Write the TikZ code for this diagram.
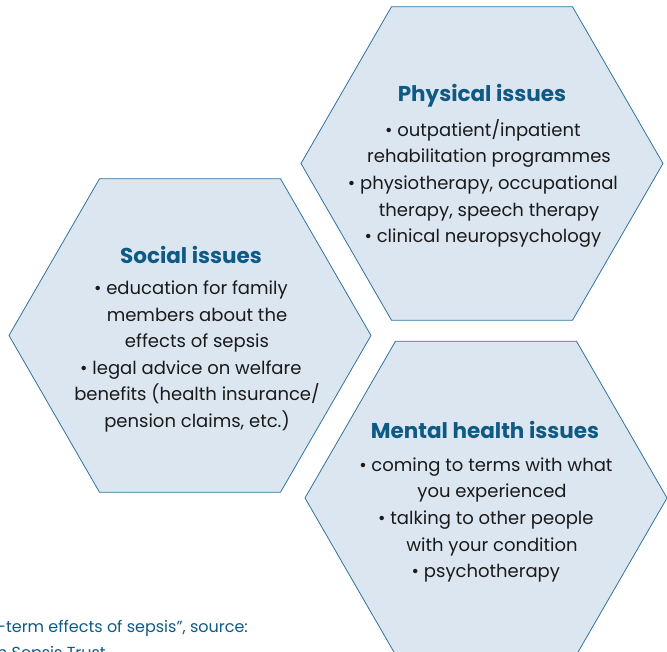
\documentclass[tikz,border=0pt]{standalone}
\usepackage{fontspec}
\setmainfont{Poppins}
\usepackage{tikz}
\usetikzlibrary{shapes.geometric}

\definecolor{hexfill}{HTML}{DCE6F1}
\definecolor{hexline}{HTML}{2E73A3}
\definecolor{headblue}{HTML}{0F5A85}
\definecolor{bodytext}{HTML}{1A1A1A}

\newcommand{\itm}{\llap{\textbullet\ }}

\begin{document}
\begin{tikzpicture}[x=1pt,y=1pt,
	hexbox/.style={regular polygon, regular polygon sides=6, minimum size=362pt,
		inner sep=0pt, outer sep=0pt, draw=hexline, line width=0.8pt, fill=hexfill},
	headtext/.style={font=\fontsize{21.5}{26}\selectfont\bfseries, text=headblue},
	itemtext/.style={font=\fontsize{18}{26.6}\selectfont, text=bodytext, align=center}]
\useasboundingbox (0,0) rectangle (667,652);
\clip (0,0) rectangle (667,652);
\node [hexbox] (phys) at (482,488.5) {};
\node [hexbox] (soc) at (190,316.5) {};
\node [hexbox] (ment) at (486,154) {};
% headings
\node [headtext] (physhead) at (482,556) {Physical issues};
\node [headtext] (sochead) at (191,397) {Social issues};
\node [headtext] (menthead) at (485,222) {Mental health issues};
% bullet lists
\node [itemtext] (physlist) at (489,468.5) {\itm outpatient/inpatient\\
	rehabilitation programmes\\
	\itm physiotherapy, occupational\\
	therapy, speech therapy\\
	\itm clinical neuropsychology};
\node [itemtext] (soclist) at (197,295.5) {\itm education for family\\
	members about the\\
	effects of sepsis\\
	\itm legal advice on welfare\\
	benefits (health insurance/\\
	pension claims, etc.)};
\node [itemtext] (mentlist) at (492,132) {\itm coming to terms with what\\
	you experienced\\
	\itm talking to other people\\
	with your condition\\
	\itm psychotherapy};
% caption
\node [anchor=north west, inner sep=0pt, align=left, text=headblue,
	font=\fontsize{16}{26}\selectfont] (source) at (-3,32)
	{-term effects of sepsis”, source:\\n Sepsis Trust};
\end{tikzpicture}
\end{document}
